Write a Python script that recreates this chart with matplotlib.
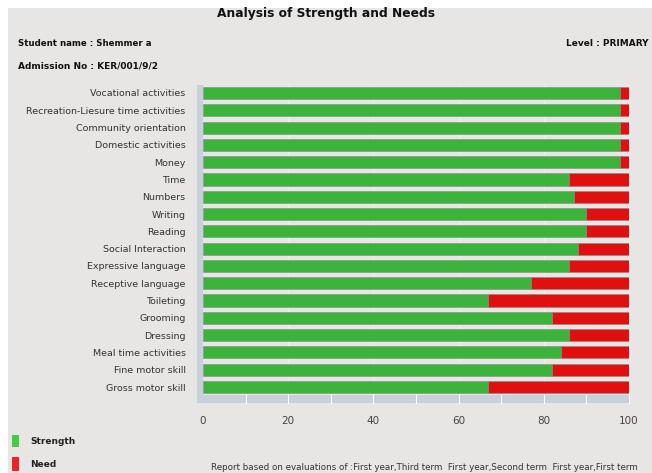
import matplotlib
matplotlib.use("Agg")
import matplotlib.pyplot as plt
from matplotlib.patches import Rectangle

categories = ["Vocational activities", "Recreation-Liesure time activities", "Community orientation",
              "Domestic activities", "Money", "Time", "Numbers", "Writing", "Reading",
              "Social Interaction", "Expressive language", "Receptive language", "Toileting",
              "Grooming", "Dressing", "Meal time activities", "Fine motor skill", "Gross motor skill"]
strength = [98, 98, 98, 98, 98, 86, 87, 90, 90, 88, 86, 77, 67, 82, 86, 84, 82, 67]
need = [100 - s for s in strength]
xticks = [0, 20, 40, 60, 80, 100]

BG = "#E8E6E4"
GREEN = "#3CB43C"
RED = "#E01010"
FLOOR = "#C6D1DC"

W, H = 652, 473
fig = plt.figure(figsize=(W / 100, H / 100), dpi=100, facecolor="white")

def fx(px): return px / W
def fy(py): return 1 - py / H

# grey panel with thin white margin top/left
fig.patches.append(Rectangle((fx(8), 0), 1 - fx(8), fy(8), transform=fig.transFigure,
                             facecolor=BG, edgecolor="none", zorder=-1))

# wall and floor
fig.patches.append(Rectangle((fx(197), fy(401)), fx(6), fy(85) - fy(401),
                             transform=fig.transFigure, facecolor=FLOOR, edgecolor="none", zorder=0))
fig.patches.append(Rectangle((fx(197), fy(403)), fx(432), fy(395) - fy(403),
                             transform=fig.transFigure, facecolor=FLOOR, edgecolor="none", zorder=0))

ax = fig.add_axes([fx(203), fy(395), fx(426), fy(85) - fy(395)])
ax.set_facecolor(BG)
y = list(range(len(categories)))
ax.barh(y, strength, height=0.7, color=GREEN, edgecolor="#8a8a8a", linewidth=0.4, label="Strength", zorder=3)
ax.barh(y, need, left=strength, height=0.7, color=RED, edgecolor="#8a8a8a", linewidth=0.4, label="Need", zorder=3)
ax.set_xlim(0, 100)
ax.set_ylim(len(categories) - 0.54, -0.46)
ax.set_yticks(y)
ax.set_yticklabels(categories, fontsize=6.8, color="#333333")
ax.tick_params(axis="y", length=0, pad=12.5)
ax.set_xticks(xticks)
ax.set_xticklabels([str(t) for t in xticks], fontsize=7.5, color="#444444")
ax.tick_params(axis="x", length=0, pad=15)
for s in ax.spines.values():
    s.set_visible(False)
for v in [20, 40, 60, 80]:
    ax.axvline(v, color="#f0f0f0", lw=0.6, zorder=1)

# floor tick lines
for v in range(10, 101, 10):
    xp = 203 + v * 4.26
    fig.add_artist(plt.Line2D([fx(xp), fx(xp)], [fy(395), fy(403)], transform=fig.transFigure,
                              color="white", lw=0.8))

fig.text(0.5, fy(14), "Analysis of Strength and Needs", ha="center", va="center",
         fontsize=8.8, fontweight="bold", color="#111111")
fig.text(fx(18), fy(44), "Student name : Shemmer a", ha="left", va="center",
         fontsize=6.2, fontweight="bold", color="#111111")
fig.text(fx(648), fy(44), "Level : PRIMARY", ha="right", va="center",
         fontsize=6.5, fontweight="bold", color="#111111")
fig.text(fx(18), fy(66), "Admission No : KER/001/9/2", ha="left", va="center",
         fontsize=6.5, fontweight="bold", color="#111111")

# legend
fig.patches.append(Rectangle((fx(12), fy(447)), fx(7), fy(435) - fy(447),
                             transform=fig.transFigure, facecolor="#44CC44", edgecolor="none"))
fig.patches.append(Rectangle((fx(12), fy(471)), fx(7), fy(457) - fy(471),
                             transform=fig.transFigure, facecolor="#EE2222", edgecolor="none"))
fig.text(fx(30), fy(441), "Strength", ha="left", va="center", fontsize=6.5, fontweight="bold", color="#222222")
fig.text(fx(30), fy(464), "Need", ha="left", va="center", fontsize=6.5, fontweight="bold", color="#222222")
fig.text(fx(638), fy(467),
         "Report based on evaluations of :First year,Third term  First year,Second term  First year,First term",
         ha="right", va="center", fontsize=6.3, color="#333333")

fig.savefig("out.png", dpi=100, facecolor="white")
